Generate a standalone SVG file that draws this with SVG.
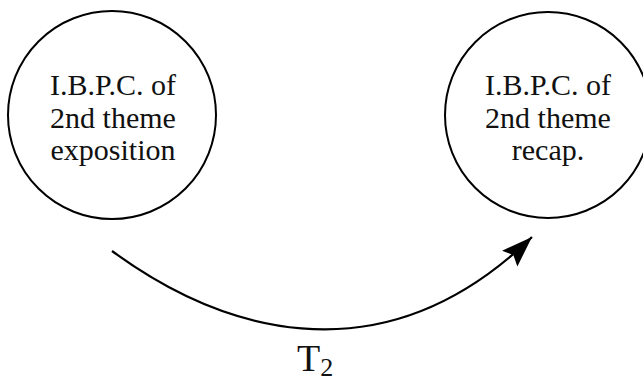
<svg xmlns="http://www.w3.org/2000/svg" width="643" height="384" viewBox="0 0 643 384">
<style>
.node circle{fill:#fff;stroke:#000;stroke-width:2}
.lbl{font-family:"Liberation Serif","Times New Roman",serif;font-size:30px;fill:#111;text-anchor:middle}
.edge{fill:none;stroke:#000;stroke-width:2.2}
</style>
<defs>
<marker id="ah" markerUnits="userSpaceOnUse" markerWidth="34" markerHeight="24" refX="31" refY="11" orient="auto">
<path d="M0,0 L31,11 L0,22 L5,11 Z" fill="#000"/>
</marker>
</defs>
<rect width="643" height="384" fill="#fff"/>
<g id="node-expo" class="node">
<circle cx="112" cy="115" r="104"/>
<text class="lbl" x="113" y="95">I.B.P.C. of</text>
<text class="lbl" x="113" y="128">2nd theme</text>
<text class="lbl" x="113" y="160">exposition</text>
</g>
<g id="node-recap" class="node">
<circle cx="548" cy="115" r="103"/>
<text class="lbl" x="548" y="95">I.B.P.C. of</text>
<text class="lbl" x="548" y="128">2nd theme</text>
<text class="lbl" x="548" y="160">recap.</text>
</g>
<g id="connectors">
<path class="edge" d="M112,251 C213,325 376,388 532,237" marker-end="url(#ah)"/>
<text x="297" y="371" font-family="'Liberation Serif','Times New Roman',serif" font-size="38" fill="#111">T<tspan font-size="26" dy="5">2</tspan></text>
</g>
</svg>
